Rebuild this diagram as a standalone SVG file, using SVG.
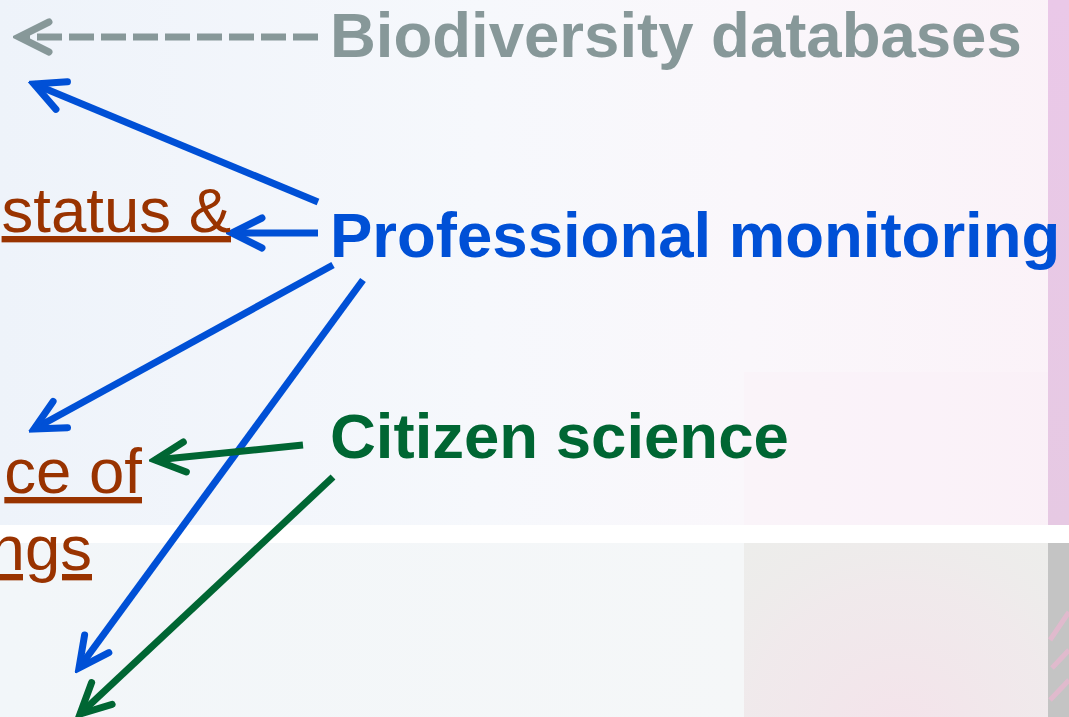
<svg xmlns="http://www.w3.org/2000/svg" width="1069" height="717" viewBox="0 0 1069 717">
  <style>
    .label { font-family: "Liberation Sans", Arial, sans-serif; font-size: 63.5px; }
    .bold { font-weight: bold; }
    .topic { fill: #993300; text-decoration: underline; }
    .line { fill: none; stroke-width: 7; }
    .blue { stroke: #0050D6; }
    .green { stroke: #006633; }
    .gray { stroke: #879899; stroke-width: 7; stroke-dasharray: 25 7; }
  </style>
  <defs>
    <linearGradient id="bgTop" x1="0" y1="0" x2="1" y2="0">
      <stop offset="0" stop-color="#EEF3FA"/>
      <stop offset="0.45" stop-color="#F6F8FC"/>
      <stop offset="0.7" stop-color="#FAF7FB"/>
      <stop offset="1" stop-color="#FBF2F8"/>
    </linearGradient>
    <linearGradient id="bgBottom" x1="0" y1="0" x2="1" y2="0">
      <stop offset="0" stop-color="#F2F6F9"/>
      <stop offset="1" stop-color="#F5F7F8"/>
    </linearGradient>
    <linearGradient id="strip" x1="0" y1="0" x2="0" y2="1">
      <stop offset="0" stop-color="#EAC8E8"/>
      <stop offset="1" stop-color="#E6C9E3"/>
    </linearGradient>
    <radialGradient id="bloom" cx="900" cy="740" r="260" gradientUnits="userSpaceOnUse">
      <stop offset="0" stop-color="#F6E0EA" stop-opacity="0.8"/>
      <stop offset="0.6" stop-color="#F3E6EC" stop-opacity="0.5"/>
      <stop offset="1" stop-color="#ECECEA" stop-opacity="0"/>
    </radialGradient>
    <marker id="headBlue" markerUnits="userSpaceOnUse" markerWidth="44" markerHeight="44" viewBox="-38 -22 44 44" refX="0" refY="0" orient="auto">
      <path d="M-30 -15 L0 0 L-30 15" fill="none" stroke="#0050D6" stroke-width="7" stroke-linecap="round" stroke-linejoin="miter"/>
    </marker>
    <marker id="headGreen" markerUnits="userSpaceOnUse" markerWidth="44" markerHeight="44" viewBox="-38 -22 44 44" refX="0" refY="0" orient="auto">
      <path d="M-30 -15 L0 0 L-30 15" fill="none" stroke="#006633" stroke-width="7" stroke-linecap="round" stroke-linejoin="miter"/>
    </marker>
    <marker id="headGray" markerUnits="userSpaceOnUse" markerWidth="44" markerHeight="44" viewBox="-38 -22 44 44" refX="0" refY="0" orient="auto">
      <path d="M-30 -15 L0 0 L-30 15" fill="none" stroke="#879899" stroke-width="7" stroke-linecap="round" stroke-linejoin="miter"/>
    </marker>
  </defs>

  <!-- slide background -->
  <g id="background">
    <rect x="0" y="0" width="1069" height="717" fill="url(#bgTop)"/>
    <rect x="744" y="372" width="304" height="153" fill="#F8EEF6" opacity="0.35"/>
    <rect x="1048" y="0" width="21" height="525" fill="url(#strip)"/>
    <rect x="0" y="525" width="1069" height="18" fill="#FFFFFF"/>
    <rect x="0" y="543" width="744" height="174" fill="url(#bgBottom)"/>
    <rect x="744" y="543" width="304" height="174" fill="#EDEDEB"/>
    <rect x="744" y="543" width="304" height="174" fill="url(#bloom)"/>
    <rect x="1048" y="543" width="21" height="174" fill="#C4C4C4"/>
    <path d="M1050 640 L1069 612 M1052 668 L1069 650 M1050 700 L1069 680" stroke="#E8B8D0" stroke-width="5" opacity="0.8"/>
  </g>

  <!-- connectors -->
  <g id="connectors">
    <path class="line gray" d="M318 37 L19 37" marker-end="url(#headGray)"/>
    <path class="line blue" d="M318 202 L34 84" marker-end="url(#headBlue)"/>
    <path class="line blue" d="M318 233 L232 233" marker-end="url(#headBlue)"/>
    <path class="line blue" d="M333 265 L34 429" marker-end="url(#headBlue)"/>
    <path class="line blue" d="M363 280 L79 668" marker-end="url(#headBlue)"/>
    <path class="line green" d="M303 445 L155 460" marker-end="url(#headGreen)"/>
    <path class="line green" d="M333 477 L80 714" marker-end="url(#headGreen)"/>
  </g>

  <!-- sources -->
  <g id="node-databases">
    <text class="label bold" x="330" y="57" fill="#879899">Biodiversity databases</text>
  </g>
  <g id="node-professional">
    <text class="label bold" x="330" y="257" fill="#0050D6">Professional monitoring</text>
  </g>
  <g id="node-citizen">
    <text class="label bold" x="330" y="458" fill="#006633">Citizen science</text>
  </g>

  <!-- targets -->
  <g id="node-status">
    <text class="label topic" x="231" y="232" text-anchor="end">status &amp;</text>
  </g>
  <g id="node-occurrence">
    <text class="label topic" x="142" y="493" text-anchor="end">ce of</text>
    <text class="label topic" x="92" y="570" text-anchor="end">ngs</text>
  </g>
</svg>
